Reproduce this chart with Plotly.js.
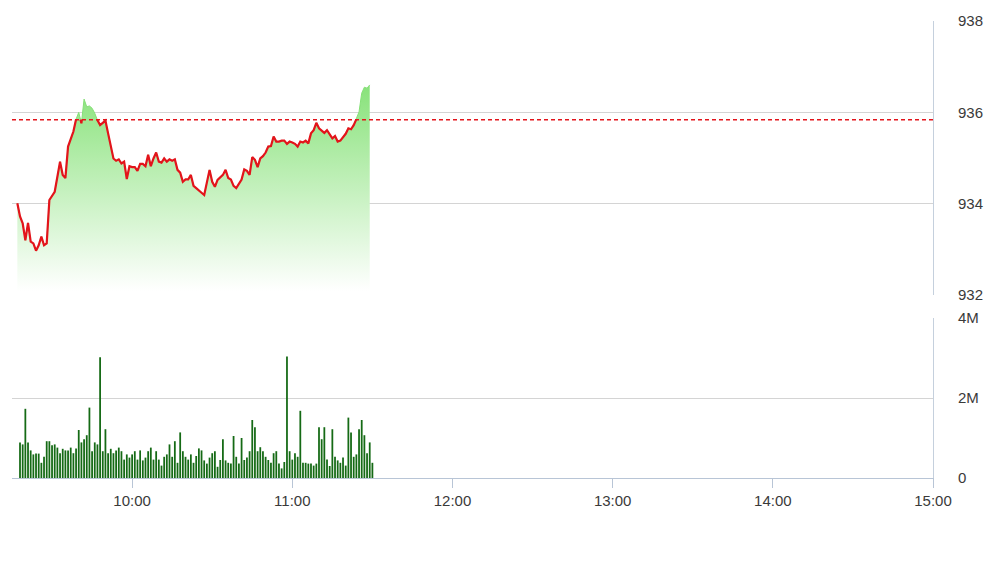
<!DOCTYPE html>
<html><head><meta charset="utf-8">
<script src="https://cdn.plot.ly/plotly-3.0.1.min.js"></script>
<style>html,body{margin:0;padding:0;background:#fff;}#chart{width:999px;height:561px;}</style>
</head><body><div id="chart"></div>
<script>
// ---- data ----
const priceStart = '09:17';
const volumeStart = '09:18';
const refPrice = 935.84;
const price = [
934.01,933.72,933.57,933.20,933.58,933.17,933.13,932.97,933.09,933.28,
933.09,933.13,934.08,934.17,934.26,934.59,934.92,934.63,934.56,935.25,
935.43,935.58,935.85,936.00,935.76,936.29,936.12,936.14,936.09,935.98,
935.83,935.72,935.77,935.82,935.54,935.25,934.99,934.94,934.97,934.88,
934.92,934.54,934.82,934.80,934.80,934.72,934.87,934.87,934.82,935.07,
934.82,934.99,935.12,934.92,934.90,934.99,934.92,934.97,934.94,934.97,
934.74,934.68,934.48,934.53,934.53,934.63,934.39,934.34,934.28,934.24,
934.19,934.45,934.74,934.48,934.37,934.52,934.58,934.63,934.74,934.56,
934.53,934.39,934.34,934.43,934.53,934.75,934.72,934.63,935.02,934.96,
934.80,934.99,935.04,935.12,935.25,935.26,935.47,935.36,935.36,935.38,
935.38,935.31,935.36,935.34,935.31,935.25,935.36,935.34,935.38,935.32,
935.54,935.61,935.77,935.65,935.60,935.55,935.61,935.53,935.43,935.48,
935.36,935.38,935.45,935.53,935.65,935.63,935.72,935.85,936.01,936.42,
936.55,936.53,936.60];
const volumeM = [
0.89,0.84,1.73,0.89,0.69,0.59,0.61,0.61,0.38,0.53,
0.92,0.92,0.82,0.84,0.76,0.62,0.73,0.69,0.69,0.76,
0.62,0.74,1.20,0.89,0.97,1.07,1.76,0.67,0.89,0.84,
3.02,0.67,1.22,0.62,0.73,0.62,0.69,0.76,0.67,0.46,
0.59,0.51,0.59,0.67,0.46,0.69,0.44,0.51,0.67,0.76,
0.46,0.67,0.46,0.31,0.53,0.59,0.84,0.53,0.92,0.38,
1.14,0.67,0.53,0.46,0.59,0.38,0.55,0.74,0.69,0.44,
0.36,0.51,0.62,0.67,0.28,0.45,0.97,0.44,0.38,0.36,
1.05,0.53,0.36,1.00,0.45,0.51,0.67,1.45,1.27,0.67,
0.77,0.67,0.53,0.45,0.38,0.62,0.67,0.36,0.24,0.40,
3.04,0.67,0.46,0.62,0.53,1.68,0.38,0.38,0.36,0.36,0.31,
0.36,1.27,0.97,1.27,0.46,0.30,1.22,0.53,0.44,0.38,
0.51,0.31,1.51,1.14,0.53,0.59,1.22,1.45,1.07,0.62,
0.89,0.38];
const priceTicks = [932, 934, 936, 938];
const volTicks = [0, 2e6, 4e6];
const volTickText = ['0', '2M', '4M'];
const sessionRange = ['09:15', '15:00'];
const firstHourTick = '10:00';

// ---- helpers ----
function toMs(hhmm){ const p = hhmm.split(':').map(Number); return Date.UTC(2024,0,1,p[0],p[1]); }
const priceX = price.map((_, i) => toMs(priceStart) + i * 60000);
const volX = volumeM.map((_, i) => toMs(volumeStart) + i * 60000);
const vol = volumeM.map(v => v * 1e6);

// red line: only the part at or below the reference price
const redX = [], redY = [];
for (let i = 0; i < price.length; i++) {
  const p = price[i];
  if (i > 0) {
    const q = price[i-1];
    if ((q <= refPrice) !== (p <= refPrice)) {
      const f = (refPrice - q) / (p - q);
      redX.push(priceX[i-1] + f * (priceX[i] - priceX[i-1])); redY.push(refPrice);
      if (p > refPrice) { redX.push(null); redY.push(null); }
    }
  }
  if (p <= refPrice) { redX.push(priceX[i]); redY.push(p); }
}

const FONT = '"Liberation Sans", Arial, sans-serif';
const tickFont = {family: FONT, size: 15, color: '#3a3a3a'};

const traces = [
  {x: priceX, y: price, xaxis: 'x', yaxis: 'y', type: 'scatter', mode: 'lines',
   line: {color: '#86e078', width: 1}, fill: 'tozeroy',
   fillgradient: {type: 'vertical', start: 932.1, stop: 936.6,
     colorscale: [[0, 'rgba(255,255,255,1)'], [1, '#88e27a']]},
   hoverinfo: 'skip'},
  {x: redX, y: redY, xaxis: 'x', yaxis: 'y', type: 'scatter', mode: 'lines',
   line: {color: '#e3141b', width: 2.2}, connectgaps: false},
  {x: volX, y: vol, xaxis: 'x', yaxis: 'y2', type: 'bar',
   marker: {color: '#156a15', line: {width: 0}}, width: 40000}
];

const layout = {
  width: 999, height: 561,
  margin: {l: 12, r: 66, t: 21, b: 83},
  paper_bgcolor: '#fff', plot_bgcolor: '#fff',
  showlegend: false,
  font: {family: FONT, size: 15, color: '#3a3a3a'},
  xaxis: {type: 'date', anchor: 'y2',
    range: [toMs(sessionRange[0]), toMs(sessionRange[1])],
    tick0: toMs(firstHourTick), dtick: 3600000, tickformat: '%H:%M',
    showgrid: false, zeroline: false,
    showline: true, linecolor: '#b8c5d6', linewidth: 1,
    ticks: 'outside', ticklen: 9, tickcolor: '#b8c5d6', tickwidth: 1,
    tickfont: tickFont},
  yaxis: {domain: [0.4004, 1], range: [932, 938], side: 'right',
    tickvals: priceTicks, showgrid: true, gridcolor: '#d4d4d4', gridwidth: 1,
    zeroline: false, showline: true, linecolor: '#c5d0dd', linewidth: 1,
    ticks: '', ticklabelstandoff: 21, tickfont: tickFont},
  yaxis2: {domain: [0, 0.3501], range: [0, 4e6], side: 'right',
    tickvals: volTicks, ticktext: volTickText, showgrid: true, gridcolor: '#d4d4d4',
    zeroline: false, showline: true, linecolor: '#c5d0dd', linewidth: 1,
    ticks: '', ticklabelstandoff: 21, tickfont: tickFont},
  shapes: [{type: 'line', xref: 'paper', x0: 0, x1: 1, yref: 'y', y0: refPrice, y1: refPrice,
    line: {color: '#e3141b', width: 1.5, dash: '4px,3px'}}]
};

Plotly.newPlot('chart', traces, layout, {displayModeBar: false, staticPlot: true});
</script>
</body></html>
